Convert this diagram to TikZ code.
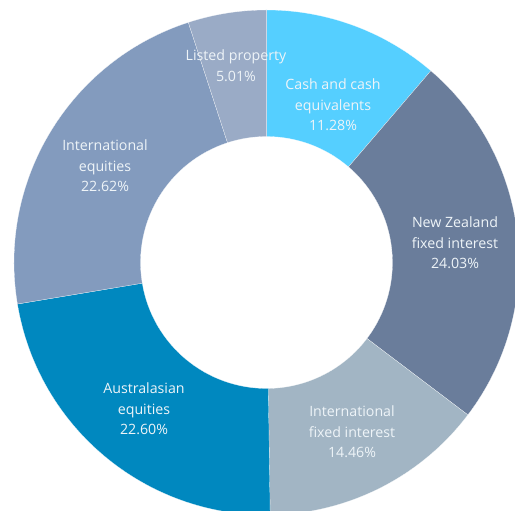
\documentclass[tikz,border=0pt]{standalone}
\usepackage{fontspec}
\setmainfont{Open Sans}
\definecolor{cashc}{HTML}{55CFFF}
\definecolor{nzc}{HTML}{6A7D9B}
\definecolor{ifc}{HTML}{A2B5C4}
\definecolor{ausc}{HTML}{0088BF}
\definecolor{iec}{HTML}{839BBE}
\definecolor{lpc}{HTML}{9AABC6}
\definecolor{lblc}{HTML}{EEF4F8}
\tikzset{
  slice/.style={draw=white, line width=0.15pt},
  lbl/.style={text=lblc, align=center, font=\fontsize{14.2}{20.5}\selectfont, inner sep=0pt}
}
\newcommand{\donutslice}[3]{%
  \fill[#1, slice, shift={(266.5,248.5)}] (#2:252.5) arc[start angle=#2, end angle=#3, radius=252.5]
    -- (#3:126) arc[start angle=#3, end angle=#2, radius=126] -- cycle;}
\begin{document}
\begin{tikzpicture}[x=1pt,y=1pt]
\useasboundingbox (0,0) rectangle (515,511);
\clip (0,0) rectangle (515,511);
\donutslice{cashc}{90}{49.392}
\donutslice{nzc}{49.392}{-37.116}
\donutslice{ifc}{-37.116}{-89.172}
\donutslice{ausc}{-89.172}{-170.532}
\donutslice{iec}{-170.532}{-251.964}
\donutslice{lpc}{-251.964}{-270}
\node[lbl] (lp) at (236,445.5) {Listed property\\5.01\%};
\node[lbl] (cash) at (333,406) {Cash and cash\\equivalents\\11.28\%};
\node[lbl] (nz) at (455,268) {New Zealand\\fixed interest\\24.03\%};
\node[lbl] (ifi) at (352,79) {International\\fixed interest\\14.46\%};
\node[lbl] (aus) at (144,102) {Australasian\\equities\\22.60\%};
\node[lbl] (ie) at (105,345) {International\\equities\\22.62\%};
\end{tikzpicture}
\end{document}
